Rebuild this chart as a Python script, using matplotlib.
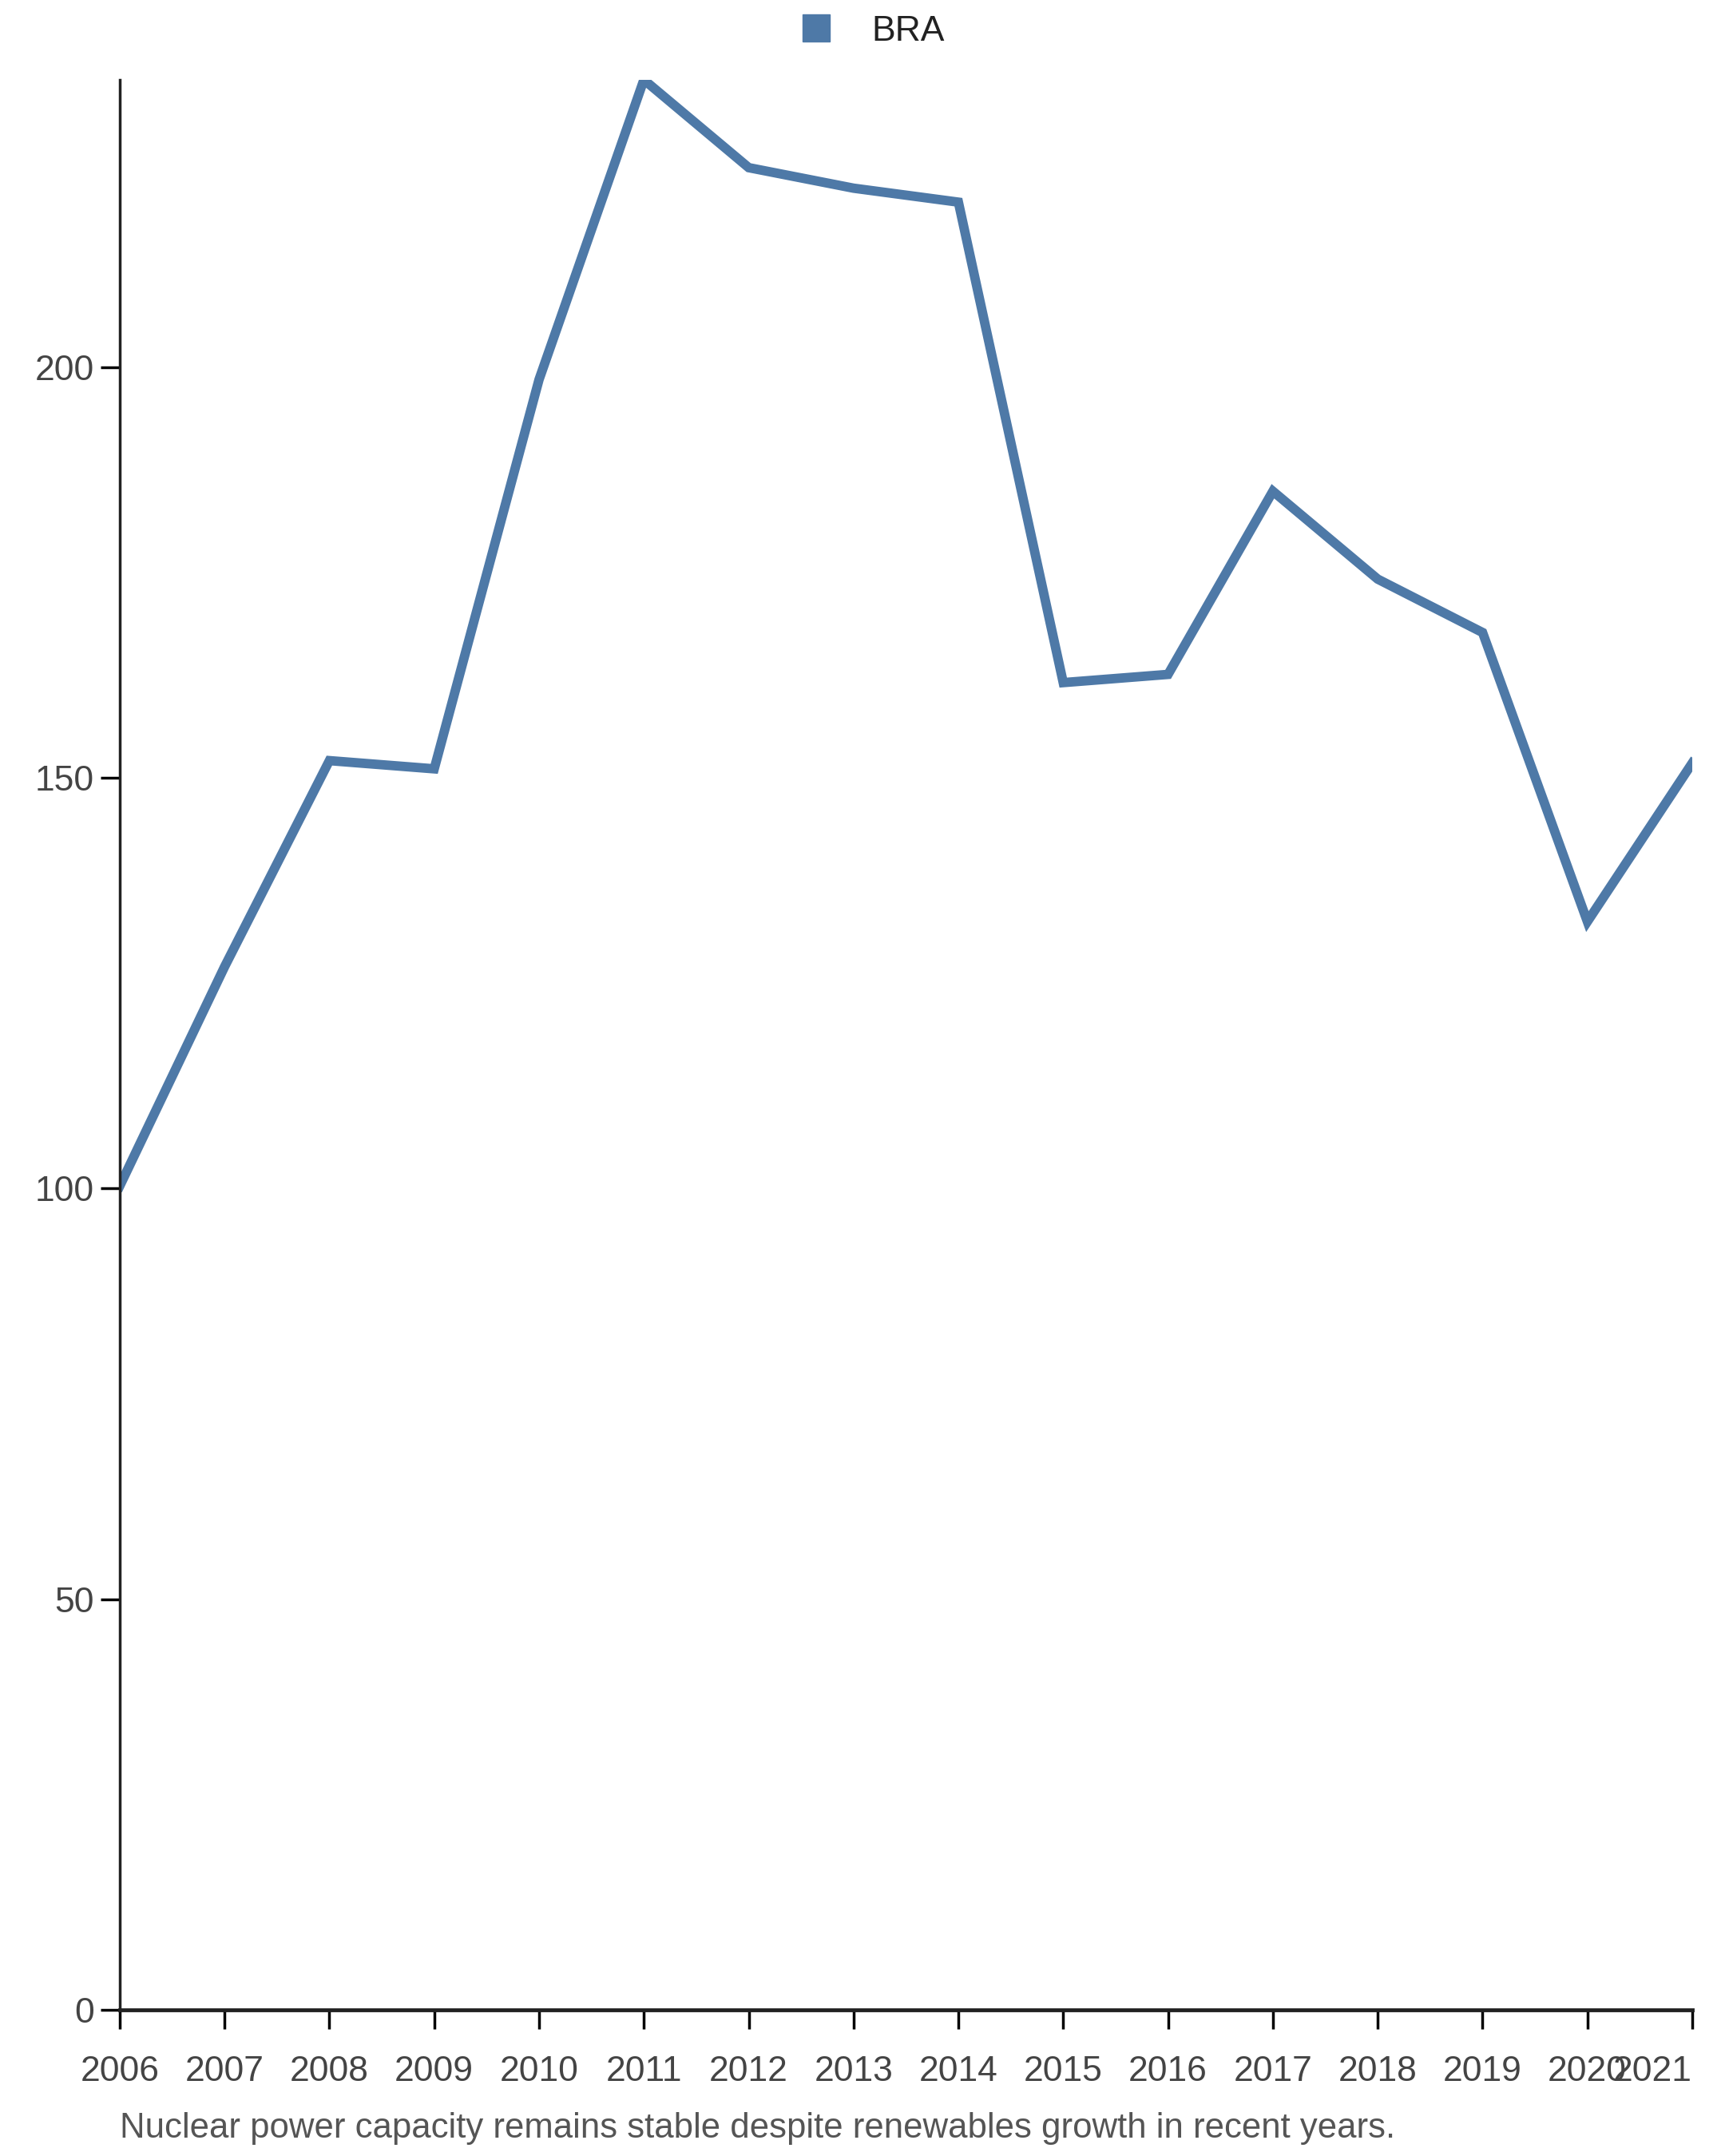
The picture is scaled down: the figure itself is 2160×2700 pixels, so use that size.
import numpy as np
import matplotlib.pyplot as plt
from matplotlib.lines import Line2D

years = [2006, 2007, 2008, 2009, 2010, 2011, 2012, 2013, 2014, 2015, 2016, 2017, 2018, 2019, 2020, 2021]
bra = [100.3, 127.0, 152.1, 151.1, 198.5, 235.0, 224.3, 221.8, 220.1, 161.6, 162.6, 184.9, 174.2, 167.7, 132.5, 151.8]
yticks = [0, 50, 100, 150, 200]
caption = "Nuclear power capacity remains stable despite renewables growth in recent years."

plt.rcParams['font.family'] = ['Liberation Sans', 'DejaVu Sans']
col = "#4e79a7"

fig = plt.figure(figsize=(21.6, 27), dpi=100)
ax = fig.add_axes([0.0694, 0.0678, 0.9116, 0.8952])
ax.plot(years, bra, color=col, lw=8.5, solid_joinstyle="miter")
ax.set_xlim(years[0], years[-1])
ax.set_ylim(0, max(bra))
ax.set_xticks(years)
ax.set_yticks(yticks)
ax.tick_params(axis="x", length=17, width=2.5, pad=24, labelsize=32, labelcolor="#444444")
ax.tick_params(axis="y", length=17, width=2.5, pad=6, labelsize=32, labelcolor="#444444")
# last year label pushed inside so it is not clipped
ax.get_xticklabels()[-1].set_horizontalalignment("right")
for s in ["top", "right"]:
    ax.spines[s].set_visible(False)
ax.spines["left"].set_linewidth(2.5)
ax.spines["bottom"].set_linewidth(3.5)
ax.spines["left"].set_color("#222222")
ax.spines["bottom"].set_color("#222222")

handle = Line2D([], [], marker="s", color=col, ls="none", markersize=24)
fig.legend([handle], ["BRA"], loc="center", bbox_to_anchor=(0.5, 0.9855), frameon=False,
           fontsize=32, handletextpad=0.55, labelcolor="#222222")
fig.text(0.0694, 0.0126, caption, fontsize=31.5, color="#555555", va="center", ha="left")
fig.savefig("out.png", dpi=100)
